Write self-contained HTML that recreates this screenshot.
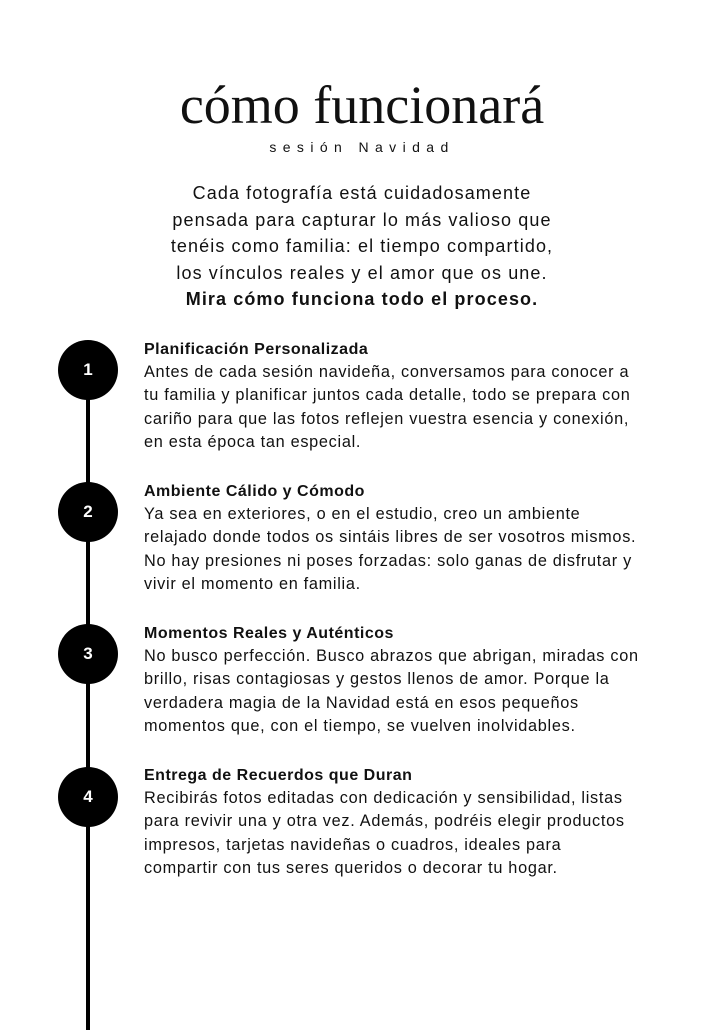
<!DOCTYPE html>
<html><head><meta charset="utf-8"><style>
*{margin:0;padding:0;box-sizing:border-box}
body{width:724px;height:1024px;background:#fff;position:relative;overflow:hidden;font-family:"Liberation Sans",sans-serif;color:#111}
.t{position:absolute;white-space:nowrap}
.title{left:0;width:724px;text-align:center;top:73px;font-family:"Liberation Serif",serif;font-size:54px;line-height:64px;color:#111}
.sub{left:0;width:724px;text-align:center;top:138px;font-size:14px;letter-spacing:6.4px;line-height:18px}
.intro{left:0;width:724px;text-align:center;top:180px;font-size:18px;line-height:26.5px;letter-spacing:1.1px}
.line{position:absolute;left:86px;top:370px;width:4px;height:660px;background:#000}
.c{position:absolute;left:58px;width:60px;height:60px;border-radius:50%;background:#000;color:#fff;font-weight:bold;font-size:17px;line-height:60px;text-align:center}
.blk{position:absolute;left:144px;font-size:16.3px;line-height:23.2px;letter-spacing:0.7px}
.blk b{display:block;font-size:16px;letter-spacing:0.5px}
</style></head><body>
<div class="t title">cómo funcionará</div>
<div class="t sub">sesión Navidad</div>
<div class="t intro">Cada fotografía está cuidadosamente<br>pensada para capturar lo más valioso que<br>tenéis como familia: el tiempo compartido,<br>los vínculos reales y el amor que os une.<br><b>Mira cómo funciona todo el proceso.</b></div>
<div class="line"></div>
<div class="c" style="top:340px">1</div>
<div class="c" style="top:482px">2</div>
<div class="c" style="top:624px">3</div>
<div class="c" style="top:767px">4</div>
<div class="t blk" style="top:338px"><b>Planificación Personalizada</b>Antes de cada sesión navideña, conversamos para conocer a<br>tu familia y planificar juntos cada detalle, todo se prepara con<br>cariño para que las fotos reflejen vuestra esencia y conexión,<br>en esta época tan especial.</div>
<div class="t blk" style="top:480px"><b>Ambiente Cálido y Cómodo</b>Ya sea en exteriores, o en el estudio, creo un ambiente<br>relajado donde todos os sintáis libres de ser vosotros mismos.<br>No hay presiones ni poses forzadas: solo ganas de disfrutar y<br>vivir el momento en familia.</div>
<div class="t blk" style="top:622px"><b>Momentos Reales y Auténticos</b>No busco perfección. Busco abrazos que abrigan, miradas con<br>brillo, risas contagiosas y gestos llenos de amor. Porque la<br>verdadera magia de la Navidad está en esos pequeños<br>momentos que, con el tiempo, se vuelven inolvidables.</div>
<div class="t blk" style="top:764px"><b>Entrega de Recuerdos que Duran</b>Recibirás fotos editadas con dedicación y sensibilidad, listas<br>para revivir una y otra vez. Además, podréis elegir productos<br>impresos, tarjetas navideñas o cuadros, ideales para<br>compartir con tus seres queridos o decorar tu hogar.</div>
</body></html>
